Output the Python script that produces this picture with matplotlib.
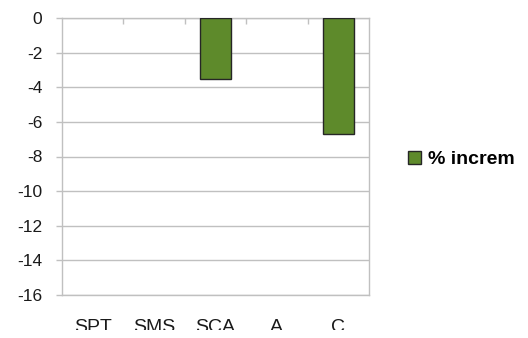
import matplotlib
matplotlib.use("Agg")
import matplotlib.pyplot as plt
from matplotlib.patches import Patch, Rectangle

nan = float("nan")
categories = ["SPT", "SMS", "SCA", "A", "C"]
pct_increm = [nan, nan, -3.5, nan, -6.7]
y_ticks = [0, -2, -4, -6, -8, -10, -12, -14, -16]
series_name = "% increm"

plt.rcParams["font.family"] = ["Liberation Sans", "DejaVu Sans"]

W, H, DPI = 528, 338, 100
fig = plt.figure(figsize=(W / DPI, H / DPI), dpi=DPI)
ax = fig.add_axes([62 / W, 1 - 295 / H, (369 - 62) / W, (295 - 18) / H])

bar_color = "#5E8A2B"
grid_color = "#C0C0C0"
text_color = "#1a1a1a"
x = list(range(len(categories)))
ax.bar(x, pct_increm, width=0.51, color=bar_color, edgecolor="#262626",
       linewidth=1.0, zorder=3)

ax.set_xlim(-0.5, len(categories) - 0.5)
ax.set_ylim(-16, 0)
ax.set_yticks(y_ticks)
ax.set_yticklabels([str(v) for v in y_ticks])
ax.yaxis.grid(True, color=grid_color, linewidth=1.0, zorder=0)

for side in ("left", "right", "bottom", "top"):
    ax.spines[side].set_color(grid_color)
    ax.spines[side].set_linewidth(1.0)

ax.tick_params(axis="y", direction="out", length=4.3, width=1.0,
               color=grid_color, pad=10, labelsize=12.5, labelcolor=text_color)

# category labels below the plot, boundary ticks hanging from the zero line
ax.set_xticks(x)
ax.set_xticklabels(categories)
ax.tick_params(axis="x", which="major", length=0, pad=17.3, labelsize=14,
               labelcolor=text_color)
ax.set_xticks([i + 0.5 for i in x[:-1]], minor=True)
ax.tick_params(axis="x", which="minor", top=True, bottom=False,
               direction="in", length=4.3, width=1.0, color=grid_color)

# the chart canvas ends a few pixels above the bottom edge of the image
fig.patches.append(Rectangle((0, 0), 1, 8 / H, transform=fig.transFigure,
                             facecolor="white", edgecolor="none", zorder=10))

handle = Patch(facecolor=bar_color, edgecolor="#262626", linewidth=1.0)
fig.legend([handle], [series_name], loc="center left",
           bbox_to_anchor=(408 / W, 1 - 159.5 / H), frameon=False,
           borderpad=0, borderaxespad=0,
           handlelength=0.65, handleheight=0.63, handletextpad=0.36,
           prop={"size": 14, "weight": "bold"})

fig.savefig("out.png", dpi=DPI, facecolor="white")
